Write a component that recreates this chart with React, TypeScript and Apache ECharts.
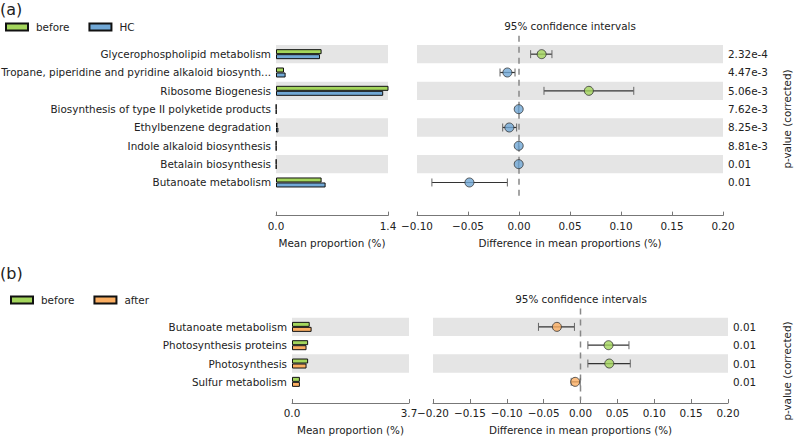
import React, { useEffect, useRef } from "react";
import * as echarts from "echarts";

// ---------- Panel (a) data ----------
const catsA = [
  "Glycerophospholipid metabolism",
  "Tropane, piperidine and pyridine alkaloid biosynth...",
  "Ribosome Biogenesis",
  "Biosynthesis of type II polyketide products",
  "Ethylbenzene degradation",
  "Indole alkaloid biosynthesis",
  "Betalain biosynthesis",
  "Butanoate metabolism",
];
const beforeA = [0.57, 0.1, 1.41, 0.004, 0.02, 0.003, 0.004, 0.57];
const hcA = [0.55, 0.12, 1.34, 0.005, 0.03, 0.004, 0.005, 0.62];
const diffA = [0.0222, -0.0114, 0.0685, -0.0003, -0.0095, -0.0003, -0.0003, -0.0486];
const loA = [0.0114, -0.0186, 0.0245, -0.0006, -0.016, -0.0006, -0.0006, -0.0854];
const hiA = [0.0323, -0.0039, 0.1125, -0.0001, -0.0023, -0.0001, -0.0001, -0.0114];
const pA = ["2.32e-4", "4.47e-3", "5.06e-3", "7.62e-3", "8.25e-3", "8.81e-3", "0.01", "0.01"];

// ---------- Panel (b) data ----------
const catsB = [
  "Butanoate metabolism",
  "Photosynthesis proteins",
  "Photosynthesis",
  "Sulfur metabolism",
];
const beforeB = [0.56, 0.51, 0.51, 0.25];
const afterB = [0.62, 0.46, 0.46, 0.25];
const diffB = [-0.032, 0.038, 0.039, -0.0072];
const loB = [-0.057, 0.01, 0.01, -0.0126];
const hiB = [-0.0082, 0.0657, 0.0675, -0.0004];
const pB = ["0.01", "0.01", "0.01", "0.01"];

const GREEN = "#A4D65C";
const BLUE = "#71A8D6";
const ORANGE = "#FBAE62";
const BAND = "#E5E5E5";
const FONT = "DejaVu Sans";
const FS = 10.4;
const TXT = "#222";

const minus = (s: string) => s.replace("-", "\u2212");

function App() {
  const ref = useRef<HTMLDivElement>(null);
  useEffect(() => {
    const chart = echarts.init(ref.current!, null, { renderer: "svg" });

    const rowH = 18.33;
    const gridA = { top: 45, height: rowH * catsA.length, outerBoundsMode: "none", containLabel: false };
    const gridB = { top: 317.7, height: rowH * catsB.length, outerBoundsMode: "none", containLabel: false };

    const xBase = (gridIndex: number, min: number, max: number, interval: number, offset: number, name: string, fmt: (v: number) => string) => ({
      type: "value",
      gridIndex,
      min,
      max,
      interval,
      offset,
      name,
      nameLocation: "middle",
      nameGap: 22,
      nameTextStyle: { fontFamily: FONT, fontSize: FS, color: TXT },
      axisLine: { show: true, lineStyle: { color: "#777", width: 1 } },
      axisTick: { show: true, inside: true, length: 4, lineStyle: { color: "#777" } },
      axisLabel: { fontFamily: FONT, fontSize: FS, color: TXT, margin: 5, formatter: fmt },
      splitLine: { show: false },
    });

    const yCat = (gridIndex: number, data: string[], showLabel: boolean, split: boolean) => ({
      type: "category",
      gridIndex,
      data,
      inverse: true,
      axisLine: { show: false },
      axisTick: { show: false },
      axisLabel: { show: showLabel, fontFamily: FONT, fontSize: FS, color: TXT, margin: 5 },
      splitArea: { show: split, areaStyle: { color: [BAND, "rgba(0,0,0,0)"] } },
      splitLine: { show: false },
    });

    const yP = (gridIndex: number, data: string[], pv: string[]) => ({
      type: "category",
      gridIndex,
      data,
      inverse: true,
      position: "right",
      axisLine: { show: false },
      axisTick: { show: false },
      axisLabel: {
        fontFamily: FONT,
        fontSize: FS,
        color: TXT,
        margin: 5,
        formatter: (_v: string, i: number) => pv[i],
      },
      splitLine: { show: false },
    });

    const errSeries = (xi: number, yi: number, lo: number[], hi: number[]) => ({
      type: "custom",
      xAxisIndex: xi,
      yAxisIndex: yi,
      z: 3,
      data: lo.map((l, i) => [l, hi[i], i]),
      encode: { x: [0, 1], y: 2 },
      renderItem: (_p: any, api: any) => {
        const a = api.coord([api.value(0), api.value(2)]);
        const b = api.coord([api.value(1), api.value(2)]);
        const h = 4;
        return {
          type: "group",
          children: [
            { type: "line", shape: { x1: a[0], y1: a[1], x2: b[0], y2: b[1] }, style: { stroke: "#333", lineWidth: 1.2 } },
            { type: "line", shape: { x1: a[0], y1: a[1] - h, x2: a[0], y2: a[1] + h }, style: { stroke: "#666", lineWidth: 1 } },
            { type: "line", shape: { x1: b[0], y1: b[1] - h, x2: b[0], y2: b[1] + h }, style: { stroke: "#666", lineWidth: 1 } },
          ],
        };
      },
    });

    const zeroLine = (xi: number, yi: number, n: number) => ({
      type: "custom",
      xAxisIndex: xi,
      yAxisIndex: yi,
      z: 2,
      silent: true,
      clip: false,
      data: [[0, 0]],
      encode: { x: 0, y: 1 },
      renderItem: (_p: any, api: any) => {
        const t = api.coord([0, -1]);
        const b = api.coord([0, n - 0.25]);
        return {
          type: "line",
          shape: { x1: t[0], y1: t[1], x2: b[0], y2: b[1] },
          style: { stroke: "#888", lineWidth: 1.5, lineDash: [6, 5] },
        };
      },
    });

    const pointSeries = (xi: number, yi: number, diff: number[], pos: string, neg: string) => ({
      type: "scatter",
      xAxisIndex: xi,
      yAxisIndex: yi,
      z: 4,
      symbol: "circle",
      symbolSize: 9,
      data: diff.map((d, i) => ({
        value: [d, i],
        itemStyle: { color: d > 0 ? pos : neg, borderColor: "#333", borderWidth: 1 },
      })),
    });

    const barSeries = (name: string, xi: number, yi: number, data: number[], color: string) => ({
      type: "bar",
      name,
      xAxisIndex: xi,
      yAxisIndex: yi,
      data,
      barWidth: 5,
      barGap: "0%",
      itemStyle: { color, borderColor: "#111", borderWidth: 1 },
    });

    const legendBase = {
      orient: "horizontal",
      itemWidth: 22,
      itemHeight: 7,
      itemGap: 19,
      icon: "rect",
      padding: 0,
      textStyle: { fontFamily: FONT, fontSize: FS, color: TXT, padding: [0, 0, 0, 3] },
      selectedMode: false,
    };

    const option: any = {
      animation: false,
      backgroundColor: "#fff",
      textStyle: { fontFamily: FONT },
      legend: [
        { ...legendBase, left: 5, top: 22, data: ["before", "HC"] },
        { ...legendBase, left: 10, top: 295, data: ["before", "after"] },
      ],
      grid: [
        { left: 276, width: 112, ...gridA },
        { left: 417, width: 306, ...gridA },
        { left: 292, width: 117, ...gridB },
        { left: 433, width: 295, ...gridB },
      ],
      xAxis: [
        xBase(0, 0, 1.4, 1.4, 24, "Mean proportion (%)", (v) => v.toFixed(1)),
        xBase(1, -0.1, 0.2, 0.05, 24, "Difference in mean proportions (%)", (v) => minus(v.toFixed(2))),
        xBase(2, 0, 3.7, 3.7, 12, "Mean proportion (%)", (v) => v.toFixed(1)),
        xBase(3, -0.2, 0.2, 0.05, 12, "Difference in mean proportions (%)", (v) => minus(v.toFixed(2))),
      ],
      yAxis: [
        yCat(0, catsA, true, true),
        yCat(1, catsA, false, true),
        yP(1, catsA, pA),
        yCat(2, catsB, true, true),
        yCat(3, catsB, false, true),
        yP(3, catsB, pB),
      ],
      series: [
        barSeries("before", 0, 0, beforeA, GREEN),
        barSeries("HC", 0, 0, hcA, BLUE),
        zeroLine(1, 1, catsA.length),
        errSeries(1, 1, loA, hiA),
        pointSeries(1, 1, diffA, GREEN, BLUE),
        barSeries("before", 2, 3, beforeB, GREEN),
        barSeries("after", 2, 3, afterB, ORANGE),
        zeroLine(3, 4, catsB.length),
        errSeries(3, 4, loB, hiB),
        pointSeries(3, 4, diffB, GREEN, ORANGE),
      ],
      graphic: [
        { type: "text", left: 0, top: 1, style: { text: "(a)", fontFamily: FONT, fontSize: 16, fill: "#222" } },
        { type: "text", left: 0, top: 265, style: { text: "(b)", fontFamily: FONT, fontSize: 16, fill: "#222" } },
        { type: "text", x: 570, y: 26, style: { text: "95% confidence intervals", fontFamily: FONT, fontSize: FS, fill: TXT, align: "center", verticalAlign: "middle" } },
        { type: "text", x: 581, y: 299, style: { text: "95% confidence intervals", fontFamily: FONT, fontSize: FS, fill: TXT, align: "center", verticalAlign: "middle" } },
        { type: "text", x: 787, y: 119, rotation: Math.PI / 2, style: { text: "p-value (corrected)", fontFamily: FONT, fontSize: FS, fill: TXT, align: "center", verticalAlign: "middle" } },
        { type: "text", x: 787, y: 371, rotation: Math.PI / 2, style: { text: "p-value (corrected)", fontFamily: FONT, fontSize: FS, fill: TXT, align: "center", verticalAlign: "middle" } },
      ],
    };

    chart.setOption(option);
    return () => chart.dispose();
  }, []);

  return (
    <div
      ref={ref}
      style={{ position: "fixed", left: 0, top: 0, width: 800, height: 438, background: "#fff" }}
    />
  );
}

export default App;
